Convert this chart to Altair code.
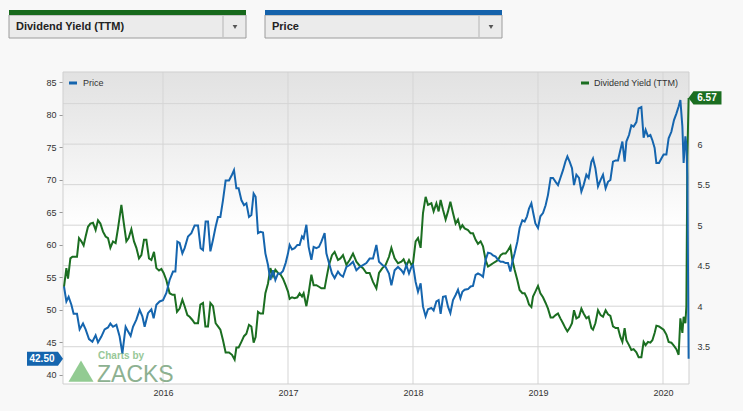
import altair as alt
import pandas as pd

# ---------------- data ----------------
price_t = [
    2015.208, 2015.227, 2015.245, 2015.267, 2015.285, 2015.312, 2015.333, 2015.360, 2015.381, 2015.408,
    2015.435, 2015.461, 2015.480, 2015.507, 2015.533, 2015.560, 2015.579, 2015.600, 2015.627, 2015.653,
    2015.675, 2015.701, 2015.720, 2015.741, 2015.760, 2015.787, 2015.813, 2015.835, 2015.853, 2015.880,
    2015.907, 2015.925, 2015.947, 2015.973, 2016.000, 2016.027, 2016.053, 2016.080, 2016.099, 2016.115,
    2016.133, 2016.155, 2016.173, 2016.200, 2016.227, 2016.253, 2016.280, 2016.301, 2016.320, 2016.341,
    2016.360, 2016.379, 2016.400, 2016.421, 2016.440, 2016.459, 2016.480, 2016.501, 2016.528, 2016.552,
    2016.568, 2016.587, 2016.605, 2016.627, 2016.648, 2016.667, 2016.688, 2016.707, 2016.725, 2016.741,
    2016.760, 2016.779, 2016.800, 2016.819, 2016.840, 2016.859, 2016.880, 2016.899, 2016.920, 2016.941,
    2016.960, 2016.981, 2017.000, 2017.013, 2017.032, 2017.053, 2017.075, 2017.093, 2017.112, 2017.125,
    2017.147, 2017.165, 2017.187, 2017.205, 2017.227, 2017.248, 2017.267, 2017.293, 2017.307, 2017.328,
    2017.352, 2017.373, 2017.400, 2017.419, 2017.440, 2017.467, 2017.493, 2017.520, 2017.547, 2017.573,
    2017.600, 2017.627, 2017.653, 2017.680, 2017.707, 2017.728, 2017.755, 2017.781, 2017.808, 2017.827,
    2017.853, 2017.880, 2017.907, 2017.925, 2017.947, 2017.968, 2017.987, 2018.000, 2018.021, 2018.040,
    2018.061, 2018.080, 2018.101, 2018.120, 2018.147, 2018.165, 2018.187, 2018.205, 2018.221, 2018.240,
    2018.261, 2018.280, 2018.299, 2018.320, 2018.341, 2018.360, 2018.379, 2018.395, 2018.413, 2018.440,
    2018.461, 2018.480, 2018.501, 2018.520, 2018.541, 2018.560, 2018.581, 2018.600, 2018.621, 2018.640,
    2018.661, 2018.680, 2018.701, 2018.720, 2018.741, 2018.760, 2018.779, 2018.795, 2018.813, 2018.835,
    2018.853, 2018.875, 2018.893, 2018.912, 2018.928, 2018.947, 2018.960, 2018.979, 2019.000, 2019.019,
    2019.040, 2019.061, 2019.080, 2019.101, 2019.120, 2019.141, 2019.160, 2019.179, 2019.200, 2019.219,
    2019.235, 2019.253, 2019.272, 2019.288, 2019.307, 2019.328, 2019.347, 2019.365, 2019.387, 2019.405,
    2019.427, 2019.440, 2019.459, 2019.480, 2019.501, 2019.520, 2019.541, 2019.560, 2019.579, 2019.600,
    2019.621, 2019.640, 2019.659, 2019.675, 2019.693, 2019.707, 2019.728, 2019.747, 2019.765, 2019.787,
    2019.805, 2019.827, 2019.845, 2019.861, 2019.880, 2019.899, 2019.915, 2019.933, 2019.947, 2019.968,
    2019.987, 2020.005, 2020.027, 2020.045, 2020.067, 2020.088, 2020.107, 2020.125, 2020.139, 2020.155,
    2020.165, 2020.179, 2020.187, 2020.195, 2020.205,
]
price = [
    53.6, 51.3, 52.0, 50.8, 49.4, 49.4, 47.0, 47.9, 47.0, 45.5,
    45.1, 46.1, 45.0, 45.9, 47.0, 47.3, 47.9, 47.4, 47.7, 45.9,
    43.3, 47.4, 46.7, 46.0, 47.4, 48.5, 50.0, 49.0, 47.4, 49.5,
    50.1, 48.7, 50.8, 51.3, 51.5, 52.6, 54.6, 55.9, 55.9, 60.5,
    60.3, 58.7, 59.5, 61.3, 61.8, 63.0, 63.0, 59.5, 59.2, 63.6,
    63.6, 59.0, 60.8, 62.8, 64.3, 64.3, 66.9, 69.9, 69.9, 70.8,
    71.5, 68.7, 68.7, 66.9, 66.1, 66.4, 64.3, 64.6, 67.9, 67.4,
    61.8, 62.0, 61.9, 58.7, 56.9, 54.6, 56.1, 54.6, 55.6, 55.6,
    56.0, 57.2, 58.7, 60.0, 59.3, 59.5, 60.0, 60.0, 61.3, 61.0,
    63.1, 59.7, 57.7, 59.7, 59.5, 59.7, 60.5, 61.8, 58.7, 57.2,
    55.6, 54.9, 55.9, 55.4, 55.1, 56.6, 56.9, 57.4, 56.1, 56.6,
    56.9, 57.2, 57.9, 57.9, 60.0, 57.4, 56.9, 56.6, 55.6, 53.8,
    56.1, 56.6, 56.1, 55.6, 56.9, 55.6, 56.6, 56.9, 54.3, 52.8,
    54.1, 50.5, 49.0, 50.1, 50.3, 49.9, 51.3, 51.5, 49.4, 52.0,
    52.1, 50.5, 49.5, 51.5, 52.3, 53.1, 51.8, 52.8, 53.1, 53.2,
    53.6, 53.7, 55.4, 55.6, 55.4, 55.1, 57.7, 58.8, 58.7, 58.4,
    58.2, 57.7, 57.4, 57.4, 57.2, 57.2, 55.9, 57.4, 58.7, 60.5,
    62.6, 63.8, 63.6, 64.4, 65.6, 66.4, 65.1, 63.3, 62.6, 64.4,
    64.9, 66.1, 67.7, 70.3, 70.3, 69.7, 69.2, 70.3, 71.5, 72.8,
    73.6, 72.8, 71.8, 69.2, 70.8, 70.3, 68.2, 69.2, 70.8, 70.3,
    72.8, 73.3, 71.8, 69.0, 70.0, 70.8, 68.7, 69.7, 70.0, 72.8,
    73.0, 73.0, 74.6, 75.9, 72.8, 75.9, 76.9, 78.4, 78.2, 78.9,
    81.0, 81.2, 76.5, 77.7, 76.7, 76.9, 76.1, 74.9, 72.6, 72.6,
    73.3, 73.9, 73.9, 76.4, 77.4, 79.2, 80.2, 81.3, 82.3, 78.2,
    72.6, 76.7, 75.4, 70.5, 42.5,
]

yield_t = [
    2015.208, 2015.227, 2015.240, 2015.259, 2015.275, 2015.293, 2015.312, 2015.328, 2015.347, 2015.365,
    2015.381, 2015.400, 2015.419, 2015.440, 2015.461, 2015.480, 2015.499, 2015.520, 2015.541, 2015.560,
    2015.579, 2015.600, 2015.621, 2015.640, 2015.667, 2015.685, 2015.707, 2015.725, 2015.747, 2015.768,
    2015.787, 2015.808, 2015.827, 2015.848, 2015.867, 2015.888, 2015.907, 2015.928, 2015.947, 2015.968,
    2015.987, 2016.005, 2016.027, 2016.053, 2016.075, 2016.093, 2016.112, 2016.133, 2016.155, 2016.173,
    2016.195, 2016.213, 2016.235, 2016.253, 2016.280, 2016.299, 2016.320, 2016.339, 2016.360, 2016.379,
    2016.400, 2016.421, 2016.440, 2016.459, 2016.480, 2016.501, 2016.528, 2016.552, 2016.573, 2016.587,
    2016.605, 2016.627, 2016.648, 2016.667, 2016.688, 2016.707, 2016.725, 2016.741, 2016.760, 2016.779,
    2016.800, 2016.819, 2016.840, 2016.859, 2016.880, 2016.899, 2016.920, 2016.941, 2016.960, 2016.981,
    2017.000, 2017.013, 2017.032, 2017.053, 2017.075, 2017.093, 2017.112, 2017.125, 2017.147, 2017.165,
    2017.187, 2017.205, 2017.227, 2017.248, 2017.267, 2017.293, 2017.307, 2017.328, 2017.352, 2017.373,
    2017.400, 2017.419, 2017.440, 2017.467, 2017.493, 2017.520, 2017.547, 2017.573, 2017.600, 2017.627,
    2017.653, 2017.680, 2017.707, 2017.728, 2017.755, 2017.781, 2017.808, 2017.827, 2017.853, 2017.880,
    2017.907, 2017.925, 2017.947, 2017.968, 2017.987, 2018.000, 2018.021, 2018.040, 2018.061, 2018.080,
    2018.101, 2018.120, 2018.147, 2018.165, 2018.187, 2018.205, 2018.221, 2018.240, 2018.261, 2018.280,
    2018.299, 2018.320, 2018.341, 2018.360, 2018.379, 2018.395, 2018.413, 2018.440, 2018.461, 2018.480,
    2018.501, 2018.520, 2018.541, 2018.560, 2018.581, 2018.600, 2018.621, 2018.640, 2018.661, 2018.680,
    2018.701, 2018.720, 2018.741, 2018.760, 2018.779, 2018.795, 2018.813, 2018.835, 2018.853, 2018.875,
    2018.893, 2018.912, 2018.928, 2018.947, 2018.960, 2018.979, 2019.000, 2019.019, 2019.040, 2019.061,
    2019.080, 2019.101, 2019.120, 2019.141, 2019.160, 2019.179, 2019.200, 2019.219, 2019.235, 2019.253,
    2019.272, 2019.288, 2019.307, 2019.328, 2019.347, 2019.365, 2019.387, 2019.405, 2019.427, 2019.440,
    2019.459, 2019.480, 2019.501, 2019.520, 2019.541, 2019.560, 2019.579, 2019.600, 2019.621, 2019.640,
    2019.659, 2019.675, 2019.693, 2019.707, 2019.728, 2019.747, 2019.765, 2019.787, 2019.805, 2019.827,
    2019.845, 2019.861, 2019.880, 2019.899, 2019.915, 2019.933, 2019.947, 2019.968, 2019.987, 2020.005,
    2020.027, 2020.045, 2020.067, 2020.088, 2020.107, 2020.125, 2020.139, 2020.155, 2020.165, 2020.179,
    2020.187, 2020.195, 2020.205,
]
div_yield = [
    4.24, 4.47, 4.34, 4.59, 4.61, 4.61, 4.61, 4.84, 4.80, 4.75,
    4.86, 4.98, 5.02, 5.03, 4.94, 5.06, 5.02, 4.92, 4.86, 4.84,
    4.72, 4.80, 4.78, 4.96, 5.25, 5.04, 4.80, 4.84, 4.95, 4.80,
    4.72, 4.59, 4.63, 4.82, 4.82, 4.59, 4.57, 4.67, 4.47, 4.44,
    4.46, 4.41, 4.32, 4.16, 4.14, 4.14, 3.93, 3.97, 4.08, 4.00,
    3.89, 3.87, 3.83, 3.79, 3.79, 4.02, 4.04, 3.75, 3.75, 4.04,
    4.00, 3.79, 3.75, 3.71, 3.58, 3.43, 3.43, 3.40, 3.34, 3.49,
    3.49, 3.56, 3.63, 3.66, 3.77, 3.75, 3.55, 3.62, 3.93, 3.91,
    3.91, 4.16, 4.28, 4.47, 4.37, 4.45, 4.41, 4.39, 4.34, 4.26,
    4.18, 4.09, 4.11, 4.10, 4.11, 4.16, 4.12, 4.16, 4.00, 4.16,
    4.39, 4.26, 4.26, 4.24, 4.22, 4.22, 4.34, 4.51, 4.63, 4.67,
    4.57, 4.59, 4.63, 4.51, 4.57, 4.65, 4.55, 4.50, 4.47, 4.41,
    4.41, 4.30, 4.22, 4.41, 4.47, 4.51, 4.61, 4.72, 4.59, 4.53,
    4.55, 4.58, 4.50, 4.57, 4.51, 4.53, 4.80, 4.84, 4.72, 5.15,
    5.35, 5.25, 5.27, 5.17, 5.27, 5.17, 5.31, 5.19, 5.07, 5.17,
    5.29, 5.15, 5.02, 5.07, 4.96, 5.00, 4.96, 4.94, 4.90, 4.90,
    4.82, 4.77, 4.80, 4.74, 4.57, 4.49, 4.51, 4.53, 4.55, 4.57,
    4.63, 4.65, 4.65, 4.69, 4.74, 4.57, 4.45, 4.32, 4.20, 4.16,
    4.16, 4.10, 4.02, 3.99, 4.12, 4.18, 4.25, 4.16, 4.11, 4.04,
    3.97, 3.86, 3.86, 3.89, 3.91, 3.85, 3.79, 3.73, 3.69, 3.73,
    3.79, 3.95, 3.85, 3.87, 3.97, 3.91, 3.85, 3.87, 3.73, 3.71,
    3.79, 3.95, 3.89, 3.87, 3.95, 3.90, 3.88, 3.75, 3.73, 3.73,
    3.62, 3.56, 3.73, 3.58, 3.52, 3.46, 3.47, 3.43, 3.37, 3.37,
    3.56, 3.52, 3.56, 3.55, 3.58, 3.67, 3.76, 3.75, 3.73, 3.71,
    3.65, 3.56, 3.55, 3.51, 3.47, 3.40, 3.85, 3.67, 3.87, 3.79,
    4.00, 5.85, 6.57,
]

year_ticks = [2016, 2017, 2018, 2019, 2020]
price_ticks = [40, 45, 50, 55, 60, 65, 70, 75, 80, 85]
yield_grid = [3.5, 4, 4.5, 5, 5.5, 6, 6.5]
yield_labels = [3.5, 4, 4.5, 5, 5.5, 6]   # the 6.5 label sits under the value badge
last_price = ["42.50"]
last_yield = ["6.57"]

# ---------------- style ----------------
FONT = "Liberation Sans"
BLUE = "#1565ae"
GREEN = "#1b6e21"
GRID = "#d5d5d5"
LBL = "#333333"
W, H = 626, 312

df_p = pd.DataFrame({"t": price_t, "v": price})
df_y = pd.DataFrame({"t": yield_t, "v": div_yield})
one = pd.DataFrame({"a": [0]})

x_scale = alt.Scale(domain=[2015.2, 2020.208], nice=False, zero=False)
p_scale = alt.Scale(domain=[38.6, 86.6], nice=False, zero=False)
y_scale = alt.Scale(domain=[3.04, 6.89], nice=False, zero=False)


def X(field):
    return alt.X(f"{field}:Q", scale=x_scale,
                 axis=alt.Axis(values=year_ticks, format="d", grid=False, ticks=False,
                               domain=False, labelPadding=4, labelFontSize=9,
                               labelColor=LBL, labelFont=FONT, title=None))


bg = alt.Chart(one).mark_rect(
    fill=alt.Gradient(gradient="linear", x1=0, x2=0, y1=0, y2=1,
                      stops=[alt.GradientStop(offset=0, color="#e2e2e2"),
                             alt.GradientStop(offset=0.12, color="#e8e8e8"),
                             alt.GradientStop(offset=0.5, color="#ffffff"),
                             alt.GradientStop(offset=1, color="#ffffff")])
).encode(x=alt.value(0), x2=alt.value(W), y=alt.value(0), y2=alt.value(H))

hgrid = alt.Chart(pd.DataFrame({"g": yield_grid})).mark_rule(color=GRID, strokeWidth=1).encode(
    y=alt.Y("g:Q", scale=y_scale, axis=None), x=alt.value(0), x2=alt.value(W))

vgrid = alt.Chart(pd.DataFrame({"yr": year_ticks})).mark_rule(color=GRID, strokeWidth=1).encode(
    x=X("yr"), y=alt.value(0), y2=alt.value(H))

border = alt.Chart(one).mark_rect(fillOpacity=0, stroke="#cfcfcf", strokeWidth=1).encode(
    x=alt.value(0), x2=alt.value(W), y=alt.value(0), y2=alt.value(H))

# watermark
wm_tri = alt.Chart(one).mark_point(shape="M-1,0.85L1,0.85L0,-0.85Z", filled=True, size=625,
                                   color="#7fc27f", opacity=0.85).encode(
    x=alt.value(18), y=alt.value(299))
wm_t1 = alt.Chart(one).mark_text(text="Charts by", align="left", baseline="alphabetic", fontSize=10,
                                 fontWeight="bold", color="#98c898", font=FONT).encode(
    x=alt.value(35), y=alt.value(287))
wm_t2 = alt.Chart(one).mark_text(text="ZACKS", align="left", baseline="alphabetic", fontSize=23,
                                 color="#8db191", font=FONT).encode(
    x=alt.value(34), y=alt.value(309.5))

yield_line = alt.Chart(df_y).mark_line(color=GREEN, strokeWidth=2).encode(
    x=X("t"),
    y=alt.Y("v:Q", scale=y_scale,
            axis=alt.Axis(orient="right", values=yield_labels, format="~g", grid=False, ticks=False,
                          domain=False, labelPadding=8, labelFontSize=9, labelColor=LBL,
                          labelFont=FONT, title=None)))

price_line = alt.Chart(df_p).mark_line(color=BLUE, strokeWidth=2).encode(
    x=X("t"),
    y=alt.Y("v:Q", scale=p_scale,
            axis=alt.Axis(orient="left", values=price_ticks, format="d", grid=False, ticks=True,
                          tickSize=4, tickColor="#999999", domain=False, labelPadding=3,
                          labelFontSize=9, labelColor=LBL, labelFont=FONT, title=None)))

# legend entries
leg_b = alt.Chart(one).mark_rect(color=BLUE).encode(
    x=alt.value(6), x2=alt.value(14), y=alt.value(9.5), y2=alt.value(12.5))
leg_bt = alt.Chart(one).mark_text(text="Price", align="left", baseline="middle", fontSize=9,
                                  color=LBL, font=FONT).encode(x=alt.value(20), y=alt.value(11))
leg_g = alt.Chart(one).mark_rect(color=GREEN).encode(
    x=alt.value(518), x2=alt.value(526), y=alt.value(9.5), y2=alt.value(12.5))
leg_gt = alt.Chart(one).mark_text(text="Dividend Yield (TTM)", align="left", baseline="middle",
                                  fontSize=9, color=LBL, font=FONT).encode(
    x=alt.value(531), y=alt.value(11))

# value badges
df_lp = pd.DataFrame({"v": [price[-1]], "s": last_price})
df_ly = pd.DataFrame({"v": [div_yield[-1]], "s": last_yield})
badge_p = alt.Chart(df_lp).mark_point(shape="M-1,-0.39H0.72L1,0L0.72,0.39H-1Z", filled=True,
                                      size=1296, color=BLUE, opacity=1).encode(
    x=alt.value(-18), y=alt.Y("v:Q", scale=p_scale, axis=None))
badge_pt = alt.Chart(df_lp).mark_text(color="white", fontWeight="bold", fontSize=10, font=FONT,
                                      align="center", baseline="middle").encode(
    x=alt.value(-21), y=alt.Y("v:Q", scale=p_scale, axis=None), text="s:N")
badge_y = alt.Chart(df_ly).mark_point(shape="M1,-0.4H-0.7L-1,0L-0.7,0.4H1Z", filled=True,
                                      size=1089, color=GREEN, opacity=1).encode(
    x=alt.value(W + 16), y=alt.Y("v:Q", scale=y_scale, axis=None))
badge_yt = alt.Chart(df_ly).mark_text(color="white", fontWeight="bold", fontSize=10, font=FONT,
                                      align="center", baseline="middle").encode(
    x=alt.value(W + 18), y=alt.Y("v:Q", scale=y_scale, axis=None), text="s:N")


# dropdown selectors above the chart
def dropdown(x0, x1, label, bar_color):
    body = alt.Chart(one).mark_rect(fill="#ebebeb", stroke="#9c9c9c", strokeWidth=1).encode(
        x=alt.value(x0), x2=alt.value(x1), y=alt.value(-57), y2=alt.value(-34))
    bar = alt.Chart(one).mark_rect(color=bar_color).encode(
        x=alt.value(x0), x2=alt.value(x1), y=alt.value(-62), y2=alt.value(-57))
    sep = alt.Chart(one).mark_rule(color="#b5b5b5").encode(
        x=alt.value(x1 - 23), y=alt.value(-56), y2=alt.value(-35))
    tri = alt.Chart(one).mark_point(shape="triangle-down", filled=True, size=22,
                                    color="#555555", opacity=1).encode(
        x=alt.value(x1 - 11), y=alt.value(-45))
    txt = alt.Chart(one).mark_text(text=label, align="left", baseline="middle", fontSize=11,
                                   fontWeight="bold", color="#222222", font=FONT).encode(
        x=alt.value(x0 + 7), y=alt.value(-45))
    return [body, bar, sep, tri, txt]


layers = [bg, hgrid, vgrid, border, wm_tri, wm_t1, wm_t2, yield_line, price_line,
          leg_b, leg_bt, leg_g, leg_gt, badge_p, badge_pt, badge_y, badge_yt]
layers += dropdown(-54, 183, "Dividend Yield (TTM)", "#17691c")
layers += dropdown(202, 439, "Price", "#1462ab")

chart = alt.layer(*layers).resolve_scale(y="independent").properties(
    width=W, height=H,
    autosize=alt.AutoSizeParams(type="none"),
    padding={"left": 63, "top": 72, "right": 54, "bottom": 27},
).configure(background="#f8f8f8", font=FONT).configure_view(strokeWidth=0)

chart.save("out.html", embed_options={"renderer": "svg", "actions": False})
